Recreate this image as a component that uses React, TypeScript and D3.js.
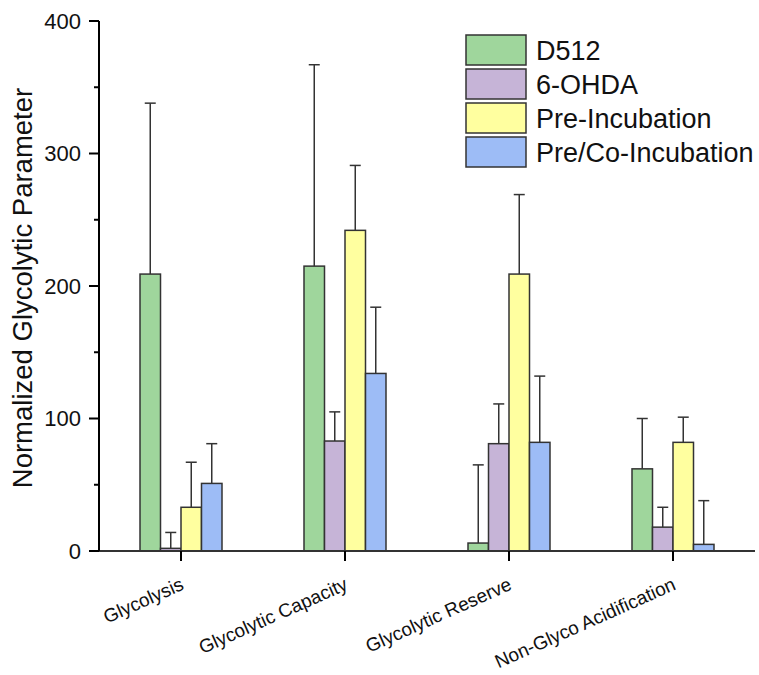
import React from "react";
import * as d3 from "d3";

const categories = ["Glycolysis", "Glycolytic Capacity", "Glycolytic Reserve", "Non-Glyco Acidification"];
const seriesNames = ["D512", "6-OHDA", "Pre-Incubation", "Pre/Co-Incubation"];
const seriesColors = ["#9fd69c", "#c6b4d7", "#ffff9f", "#9dbcf6"];

// mean values per series (rows) per category (cols)
const d512 = [209, 215, 6, 62];
const ohda = [2, 83, 81, 18];
const preInc = [33, 242, 209, 82];
const preCoInc = [51, 134, 82, 5];

// upper error (mean + SD)
const d512Err = [338, 367, 65, 100];
const ohdaErr = [14, 105, 111, 33];
const preIncErr = [67, 291, 269, 101];
const preCoIncErr = [81, 184, 132, 38];

const yTicks = [0, 100, 200, 300, 400];
const yMinorTicks = [50, 150, 250, 350];

const values = [d512, ohda, preInc, preCoInc];
const errs = [d512Err, ohdaErr, preIncErr, preCoIncErr];

const W = 759, H = 675;
const left = 99, right = 755, top = 21, bottom = 551;
const font = "'Liberation Sans', Arial, sans-serif";

export default function App() {
  const x = d3.scaleBand().domain(categories).range([left, right]).padding(0);
  const inner = d3.scaleBand().domain(seriesNames).range([0, x.bandwidth() / 2]).padding(0);
  const y = d3.scaleLinear().domain([0, 400]).range([bottom, top]);
  const bw = inner.bandwidth();
  const cap = 11;

  return (
    <svg width={W} height={H} style={{ position: "absolute", left: 0, top: 0, background: "#fff" }}>
      {/* bars */}
      {seriesNames.map((s, si) => (
        <g key={s}>
          {categories.map((c, ci) => {
            const x0 = (x(c) as number) + x.bandwidth() / 4 + (inner(s) as number);
            const v = values[si][ci];
            const e = errs[si][ci];
            const cx = x0 + bw / 2;
            return (
              <g key={c}>
                <line x1={cx} x2={cx} y1={y(v)} y2={y(e)} stroke="#333" strokeWidth={1.5} />
                <line x1={cx - cap / 2} x2={cx + cap / 2} y1={y(e)} y2={y(e)} stroke="#333" strokeWidth={1.5} />
                <rect x={x0} y={y(v)} width={bw} height={y(0) - y(v)} fill={seriesColors[si]} stroke="#333" strokeWidth={1.5} />
              </g>
            );
          })}
        </g>
      ))}

      {/* x axis */}
      <line x1={left} x2={right} y1={bottom} y2={bottom} stroke="#333" strokeWidth={2} />
      {categories.map((c) => {
        const cx = (x(c) as number) + x.bandwidth() / 2;
        return (
          <g key={c}>
            <line x1={cx} x2={cx} y1={bottom} y2={bottom + 10} stroke="#000" strokeWidth={2} />
            <text
              transform={`translate(${cx + 4},${bottom + 38}) rotate(-24)`}
              textAnchor="end"
              fontFamily={font}
              fontSize={19}
              fill="#111"
            >
              {c}
            </text>
          </g>
        );
      })}

      {/* y axis */}
      <line x1={left} x2={left} y1={top} y2={bottom} stroke="#000" strokeWidth={2} />
      {yTicks.map((t) => (
        <g key={t}>
          <line x1={left - 10} x2={left} y1={y(t)} y2={y(t)} stroke="#000" strokeWidth={2} />
          <text x={81} y={y(t)} dy="0.35em" textAnchor="end" fontFamily={font} fontSize={22} fill="#111">
            {t}
          </text>
        </g>
      ))}
      {yMinorTicks.map((t) => (
        <line key={t} x1={left - 5} x2={left} y1={y(t)} y2={y(t)} stroke="#000" strokeWidth={2} />
      ))}
      <text
        transform={`translate(32,288) rotate(-90)`}
        textAnchor="middle"
        fontFamily={font}
        fontSize={27.5}
        fill="#111"
      >
        Normalized Glycolytic Parameter
      </text>

      {/* legend */}
      {seriesNames.map((s, i) => {
        const ly = 35 + i * 34;
        return (
          <g key={s}>
            <rect x={466} y={ly} width={60} height={30} fill={seriesColors[i]} stroke="#333" strokeWidth={1.5} />
            <text x={536} y={ly + 25} fontFamily={font} fontSize={27} fill="#111">
              {s}
            </text>
          </g>
        );
      })}
    </svg>
  );
}
